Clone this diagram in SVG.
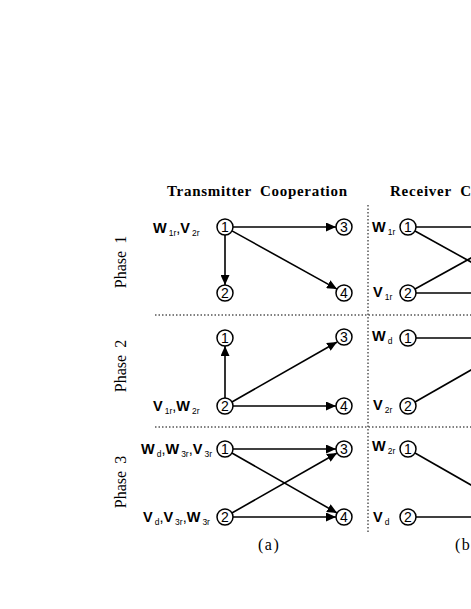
<svg xmlns="http://www.w3.org/2000/svg" width="471" height="609" viewBox="0 0 471 609">
<style>
.node circle{fill:#fff;stroke:#000;stroke-width:1.5}
.node text{font-family:"Liberation Sans",Arial,sans-serif;font-size:14px;text-anchor:middle;fill:#000}
.lbl{font-family:"Liberation Sans",Arial,sans-serif;font-size:14.5px;font-weight:bold;fill:#000}
.sub{font-size:8.5px;font-weight:normal}
.cm{font-weight:normal}
.edge{stroke:#000;stroke-width:1.6;fill:none}
.arr{marker-end:url(#ah)}
.dot{stroke:#000;stroke-width:1;stroke-dasharray:1.5 2;fill:none}
.title{font-family:"Liberation Serif","Times New Roman",serif;font-weight:bold;font-size:15px;fill:#000;word-spacing:4px}
.phase{font-family:"Liberation Serif","Times New Roman",serif;font-size:16px;fill:#000;text-anchor:middle;word-spacing:3px}
.cap{font-family:"Liberation Serif","Times New Roman",serif;font-size:16px;fill:#000;letter-spacing:1.5px}
</style>
<defs>
<marker id="ah" markerUnits="userSpaceOnUse" markerWidth="11" markerHeight="9" refX="10" refY="4.5" orient="auto">
<path d="M0,0 L10,4.5 L0,9 z" fill="#000"/>
</marker>
</defs>
<rect width="471" height="609" fill="#fff"/>

<g id="dividers">
<line class="dot" x1="155" y1="315" x2="471" y2="315"/>
<line class="dot" x1="155" y1="427" x2="471" y2="427"/>
<line class="dot" x1="368" y1="205" x2="368" y2="532"/>
</g>

<g id="titles">
<text class="title" x="167" y="196" textLength="180" lengthAdjust="spacing">Transmitter Cooperation</text>
<text class="title" x="390" y="196" textLength="81" lengthAdjust="spacing">Receiver C</text>
<text class="phase" transform="translate(126,262) rotate(-90)">Phase 1</text>
<text class="phase" transform="translate(126,366) rotate(-90)">Phase 2</text>
<text class="phase" transform="translate(126,482) rotate(-90)">Phase 3</text>
<text class="cap" x="258" y="550">(a)</text>
<text class="cap" x="455" y="550">(b</text>
</g>

<g id="connectors">
<line class="edge arr" x1="233" y1="227" x2="336" y2="227"/>
<line class="edge arr" x1="225" y1="235" x2="225" y2="285"/>
<line class="edge arr" x1="232" y1="230.9" x2="337" y2="289.1"/>
<line class="edge arr" x1="225" y1="398" x2="225" y2="346"/>
<line class="edge arr" x1="231.9" y1="402" x2="337.1" y2="342"/>
<line class="edge arr" x1="233" y1="406" x2="336" y2="406"/>
<line class="edge arr" x1="233" y1="449" x2="336" y2="449"/>
<line class="edge arr" x1="231.9" y1="453" x2="337.1" y2="513"/>
<line class="edge arr" x1="231.9" y1="513" x2="337.1" y2="453"/>
<line class="edge arr" x1="233" y1="517" x2="336" y2="517"/>
<line class="edge" x1="416" y1="227" x2="527" y2="227"/>
<line class="edge" x1="415" y1="231" x2="527" y2="293"/>
<line class="edge" x1="415" y1="289" x2="527" y2="227"/>
<line class="edge" x1="416" y1="293" x2="527" y2="293"/>
<line class="edge" x1="416" y1="338" x2="527" y2="338"/>
<line class="edge" x1="415" y1="402" x2="527" y2="338"/>
<line class="edge" x1="415" y1="453" x2="527" y2="517"/>
<line class="edge" x1="416" y1="517" x2="527" y2="517"/>
</g>

<g id="labels">
<text class="lbl" x="153" y="233">W<tspan class="sub" dx="2" dy="2.5">1r</tspan><tspan class="cm" dy="-2.5">,</tspan>V<tspan class="sub" dx="2" dy="2.5">2r</tspan></text>
<text class="lbl" x="153" y="411">V<tspan class="sub" dx="2" dy="2.5">1r</tspan><tspan class="cm" dy="-2.5">,</tspan>W<tspan class="sub" dx="2" dy="2.5">2r</tspan></text>
<text class="lbl" x="141" y="454">W<tspan class="sub" dx="2" dy="2.5">d</tspan><tspan class="cm" dy="-2.5">,</tspan>W<tspan class="sub" dx="2" dy="2.5">3r</tspan><tspan class="cm" dy="-2.5">,</tspan>V<tspan class="sub" dx="2" dy="2.5">3r</tspan></text>
<text class="lbl" x="143" y="522">V<tspan class="sub" dx="2" dy="2.5">d</tspan><tspan class="cm" dy="-2.5">,</tspan>V<tspan class="sub" dx="2" dy="2.5">3r</tspan><tspan class="cm" dy="-2.5">,</tspan>W<tspan class="sub" dx="2" dy="2.5">3r</tspan></text>
<text class="lbl" x="372" y="232">W<tspan class="sub" dx="2" dy="2.5">1r</tspan></text>
<text class="lbl" x="373" y="297">V<tspan class="sub" dx="2" dy="2.5">1r</tspan></text>
<text class="lbl" x="372" y="341">W<tspan class="sub" dx="2" dy="2.5">d</tspan></text>
<text class="lbl" x="373" y="410">V<tspan class="sub" dx="2" dy="2.5">2r</tspan></text>
<text class="lbl" x="372" y="451">W<tspan class="sub" dx="2" dy="2.5">2r</tspan></text>
<text class="lbl" x="373" y="522">V<tspan class="sub" dx="2" dy="2.5">d</tspan></text>
</g>

<g id="a-p1-n1" class="node"><circle cx="225" cy="227" r="8"/><text x="225" y="232">1</text></g>
<g id="a-p1-n2" class="node"><circle cx="225" cy="293" r="8"/><text x="225" y="298">2</text></g>
<g id="a-p1-n3" class="node"><circle cx="344" cy="227" r="8"/><text x="344" y="232">3</text></g>
<g id="a-p1-n4" class="node"><circle cx="344" cy="293" r="8"/><text x="344" y="298">4</text></g>
<g id="a-p2-n1" class="node"><circle cx="225" cy="338" r="8"/><text x="225" y="343">1</text></g>
<g id="a-p2-n2" class="node"><circle cx="225" cy="406" r="8"/><text x="225" y="411">2</text></g>
<g id="a-p2-n3" class="node"><circle cx="344" cy="337" r="8"/><text x="344" y="342">3</text></g>
<g id="a-p2-n4" class="node"><circle cx="344" cy="406" r="8"/><text x="344" y="411">4</text></g>
<g id="a-p3-n1" class="node"><circle cx="225" cy="449" r="8"/><text x="225" y="454">1</text></g>
<g id="a-p3-n2" class="node"><circle cx="225" cy="517" r="8"/><text x="225" y="522">2</text></g>
<g id="a-p3-n3" class="node"><circle cx="344" cy="449" r="8"/><text x="344" y="454">3</text></g>
<g id="a-p3-n4" class="node"><circle cx="344" cy="517" r="8"/><text x="344" y="522">4</text></g>
<g id="b-p1-n1" class="node"><circle cx="408" cy="227" r="8"/><text x="408" y="232">1</text></g>
<g id="b-p1-n2" class="node"><circle cx="408" cy="293" r="8"/><text x="408" y="298">2</text></g>
<g id="b-p2-n1" class="node"><circle cx="408" cy="338" r="8"/><text x="408" y="343">1</text></g>
<g id="b-p2-n2" class="node"><circle cx="408" cy="406" r="8"/><text x="408" y="411">2</text></g>
<g id="b-p3-n1" class="node"><circle cx="408" cy="449" r="8"/><text x="408" y="454">1</text></g>
<g id="b-p3-n2" class="node"><circle cx="408" cy="517" r="8"/><text x="408" y="522">2</text></g>
</svg>
